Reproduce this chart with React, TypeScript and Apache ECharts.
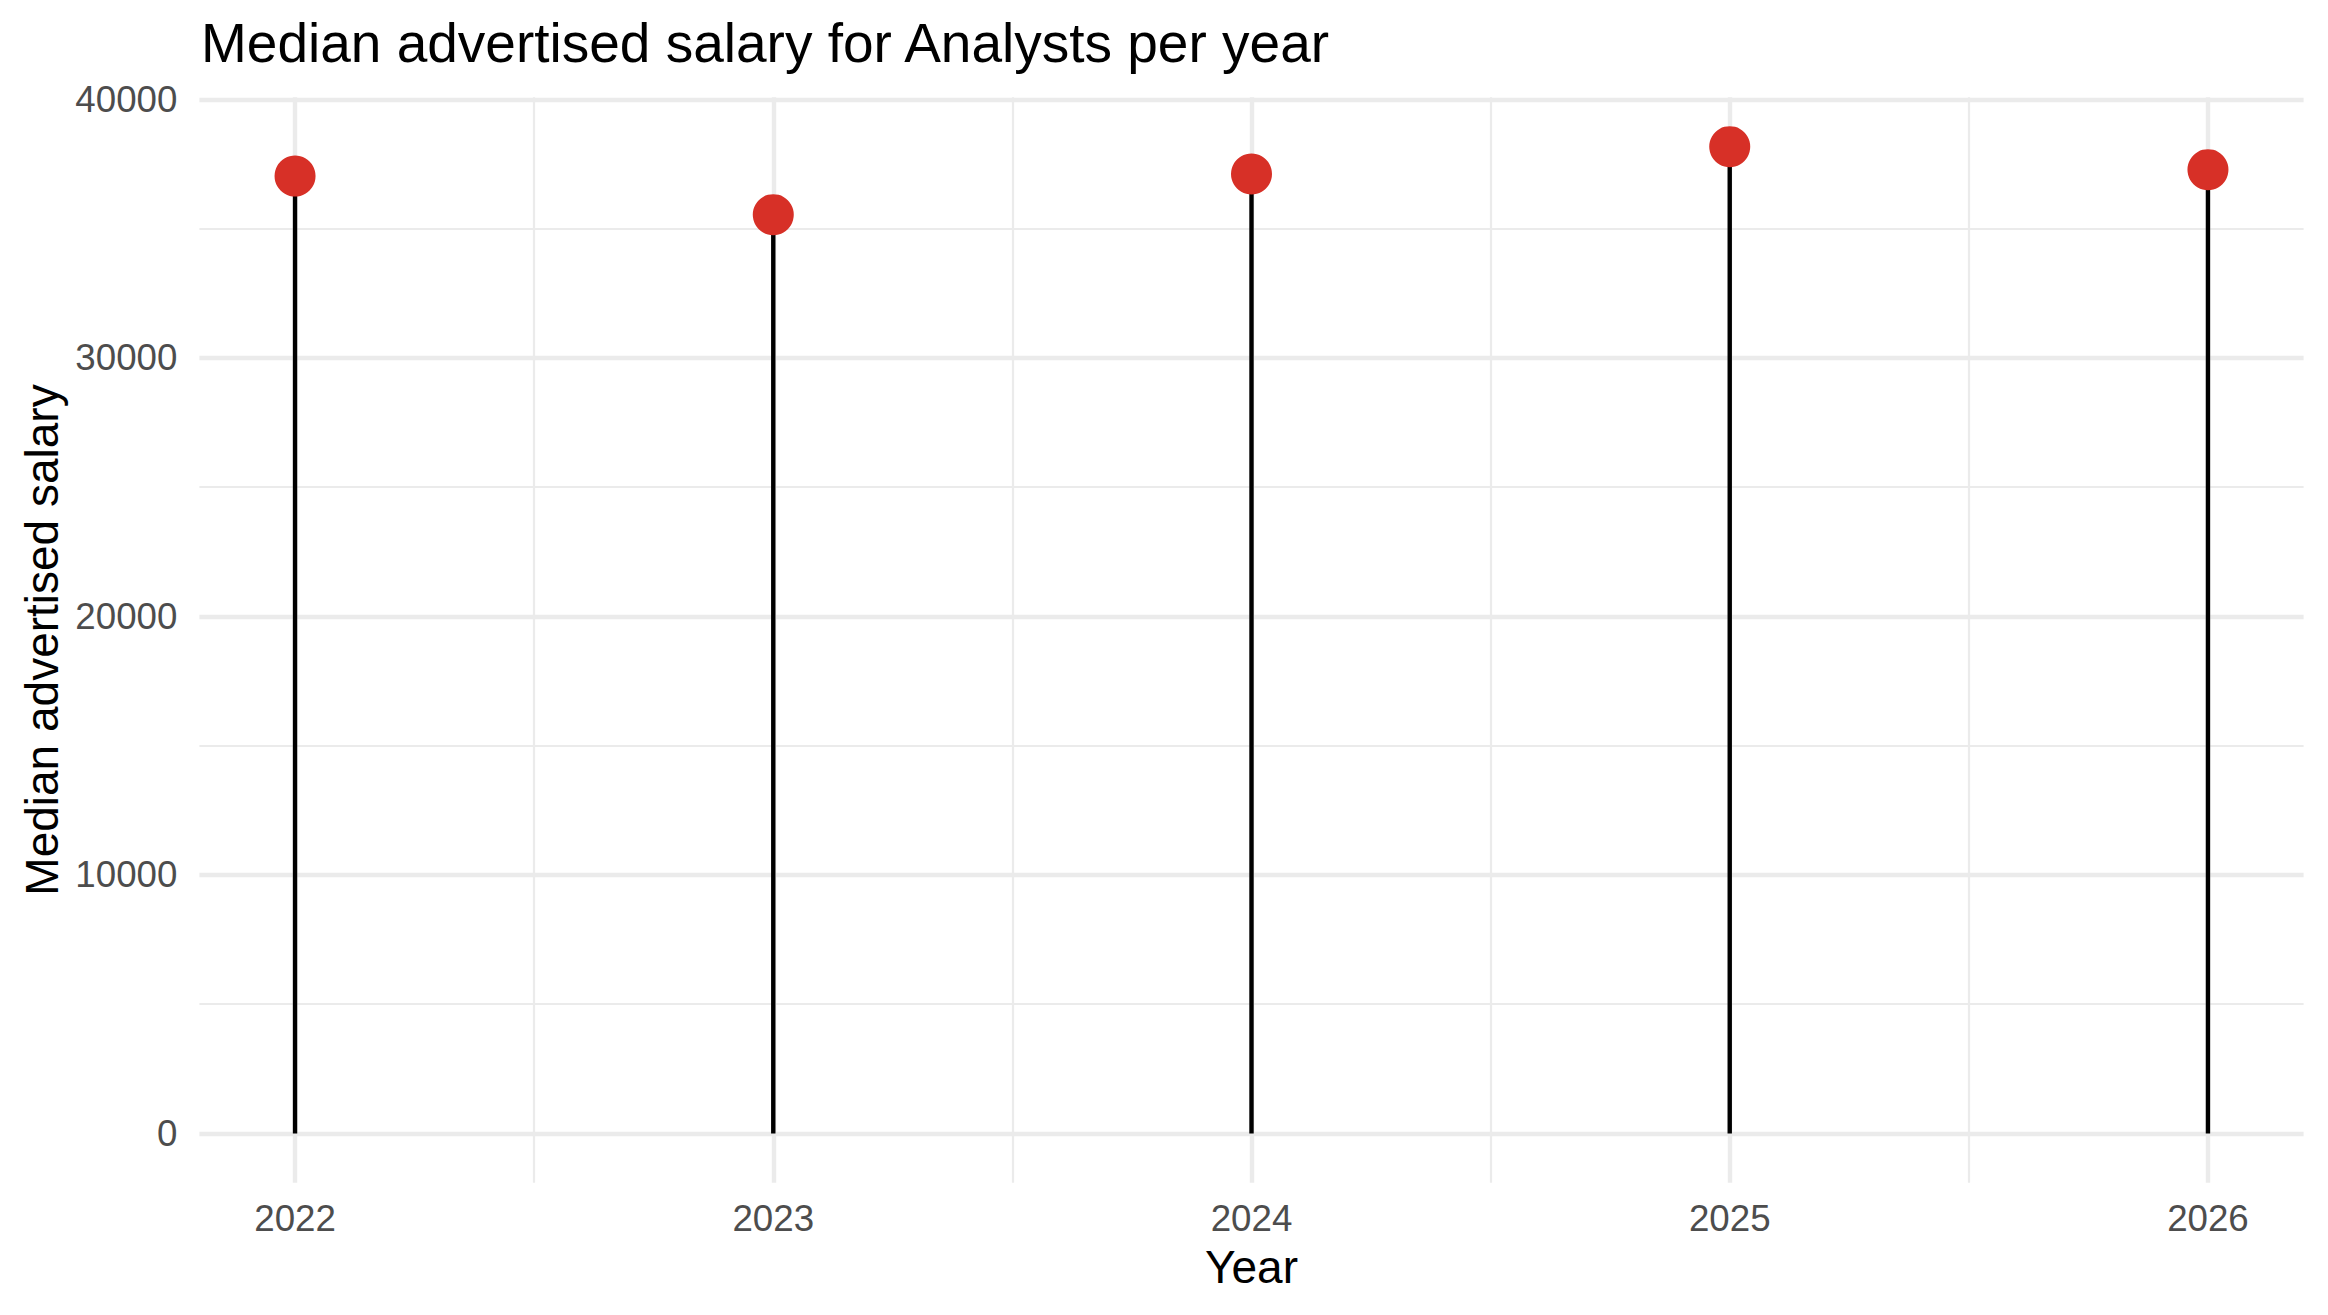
import React, { useEffect, useRef } from "react";
import * as echarts from "echarts";

// data
const years = [2022, 2023, 2024, 2025, 2026];
const salaries = [37030, 35540, 37110, 38170, 37280];

// tick values
const xMinorTicks = [2022.5, 2023.5, 2024.5, 2025.5];
const yTicks = [0, 10000, 20000, 30000, 40000];
const yMinorTicks = [5000, 15000, 25000, 35000];

const FONT = "'Liberation Sans', Arial, Helvetica, sans-serif";
const GRID_COLOR = "#EBEBEB";

// ggplot-like 5% expansion of the scales
const xSpan = years[years.length - 1] - years[0];
const xMin = years[0] - xSpan * 0.05;
const xMax = years[years.length - 1] + xSpan * 0.05;
const yTop = Math.max(...salaries);
const yMin = -yTop * 0.05;
const yMax = yTop * 1.05;

const App: React.FC = () => {
  const chartRef = useRef<HTMLDivElement>(null);

  useEffect(() => {
    if (!chartRef.current) return;
    const chart = echarts.init(chartRef.current, undefined, { renderer: "svg" });

    const gridLines = [
      ...years.map((x) => ({ xAxis: x, lineStyle: { width: 4.4 } })),
      ...xMinorTicks.map((x) => ({ xAxis: x, lineStyle: { width: 2.2 } })),
      ...yTicks.map((y) => ({ yAxis: y, lineStyle: { width: 4.4 } })),
      ...yMinorTicks.map((y) => ({ yAxis: y, lineStyle: { width: 2.2 } })),
    ];

    const option: echarts.EChartsOption = {
      animation: false,
      backgroundColor: "#ffffff",
      title: {
        text: "Median advertised salary for Analysts per year",
        left: 201,
        top: 15.5,
        padding: 0,
        textStyle: {
          fontFamily: FONT,
          fontSize: 55,
          lineHeight: 55,
          fontWeight: "normal",
          color: "#000000",
        },
      },
      grid: {
        left: 199.4,
        right: 24.4,
        top: 97.3,
        bottom: 132.2,
        containLabel: false,
      },
      xAxis: {
        type: "value",
        min: xMin,
        max: xMax,
        axisLine: { show: false },
        axisTick: { show: false },
        splitLine: { show: false },
        axisLabel: {
          showMinLabel: false,
          showMaxLabel: false,
          margin: 17,
          fontFamily: FONT,
          fontSize: 36.7,
          color: "#4D4D4D",
          formatter: (v: number) => (years.includes(v) ? String(v) : ""),
        },
      },
      yAxis: {
        type: "value",
        min: yMin,
        max: yMax,
        axisLine: { show: false },
        axisTick: { show: false },
        splitLine: { show: false },
        axisLabel: {
          showMinLabel: false,
          showMaxLabel: false,
          margin: 22,
          fontFamily: FONT,
          fontSize: 36.7,
          color: "#4D4D4D",
          formatter: (v: number) => (yTicks.includes(v) ? String(v) : ""),
        },
      },
      graphic: [
        {
          type: "text",
          x: 1251.5,
          y: 1267,
          style: {
            text: "Year",
            fontFamily: FONT,
            fontSize: 46,
            fill: "#000000",
            textAlign: "center",
            textVerticalAlign: "middle",
          },
        },
        {
          type: "text",
          x: 41.5,
          y: 640,
          rotation: Math.PI / 2,
          style: {
            text: "Median advertised salary",
            fontFamily: FONT,
            fontSize: 46,
            fill: "#000000",
            textAlign: "center",
            textVerticalAlign: "middle",
          },
        },
      ],
      series: [
        {
          name: "stem",
          type: "bar",
          barWidth: 4.4,
          itemStyle: { color: "#000000" },
          data: years.map((y, i) => [y, salaries[i]]),
          silent: true,
          z: 2,
          markLine: {
            z: 1,
            silent: true,
            symbol: "none",
            label: { show: false },
            lineStyle: { color: GRID_COLOR, type: "solid" },
            data: gridLines as any,
          },
        },
        {
          name: "salary",
          type: "scatter",
          symbol: "circle",
          symbolSize: 41,
          itemStyle: { color: "#D73027", opacity: 1 },
          data: years.map((y, i) => [y, salaries[i]]),
          z: 3,
        },
      ],
    };

    chart.setOption(option);
    return () => {
      chart.dispose();
    };
  }, []);

  return (
    <div
      ref={chartRef}
      style={{
        position: "absolute",
        left: 0,
        top: 0,
        width: "2328px",
        height: "1315px",
        background: "#ffffff",
      }}
    />
  );
};

export default App;
